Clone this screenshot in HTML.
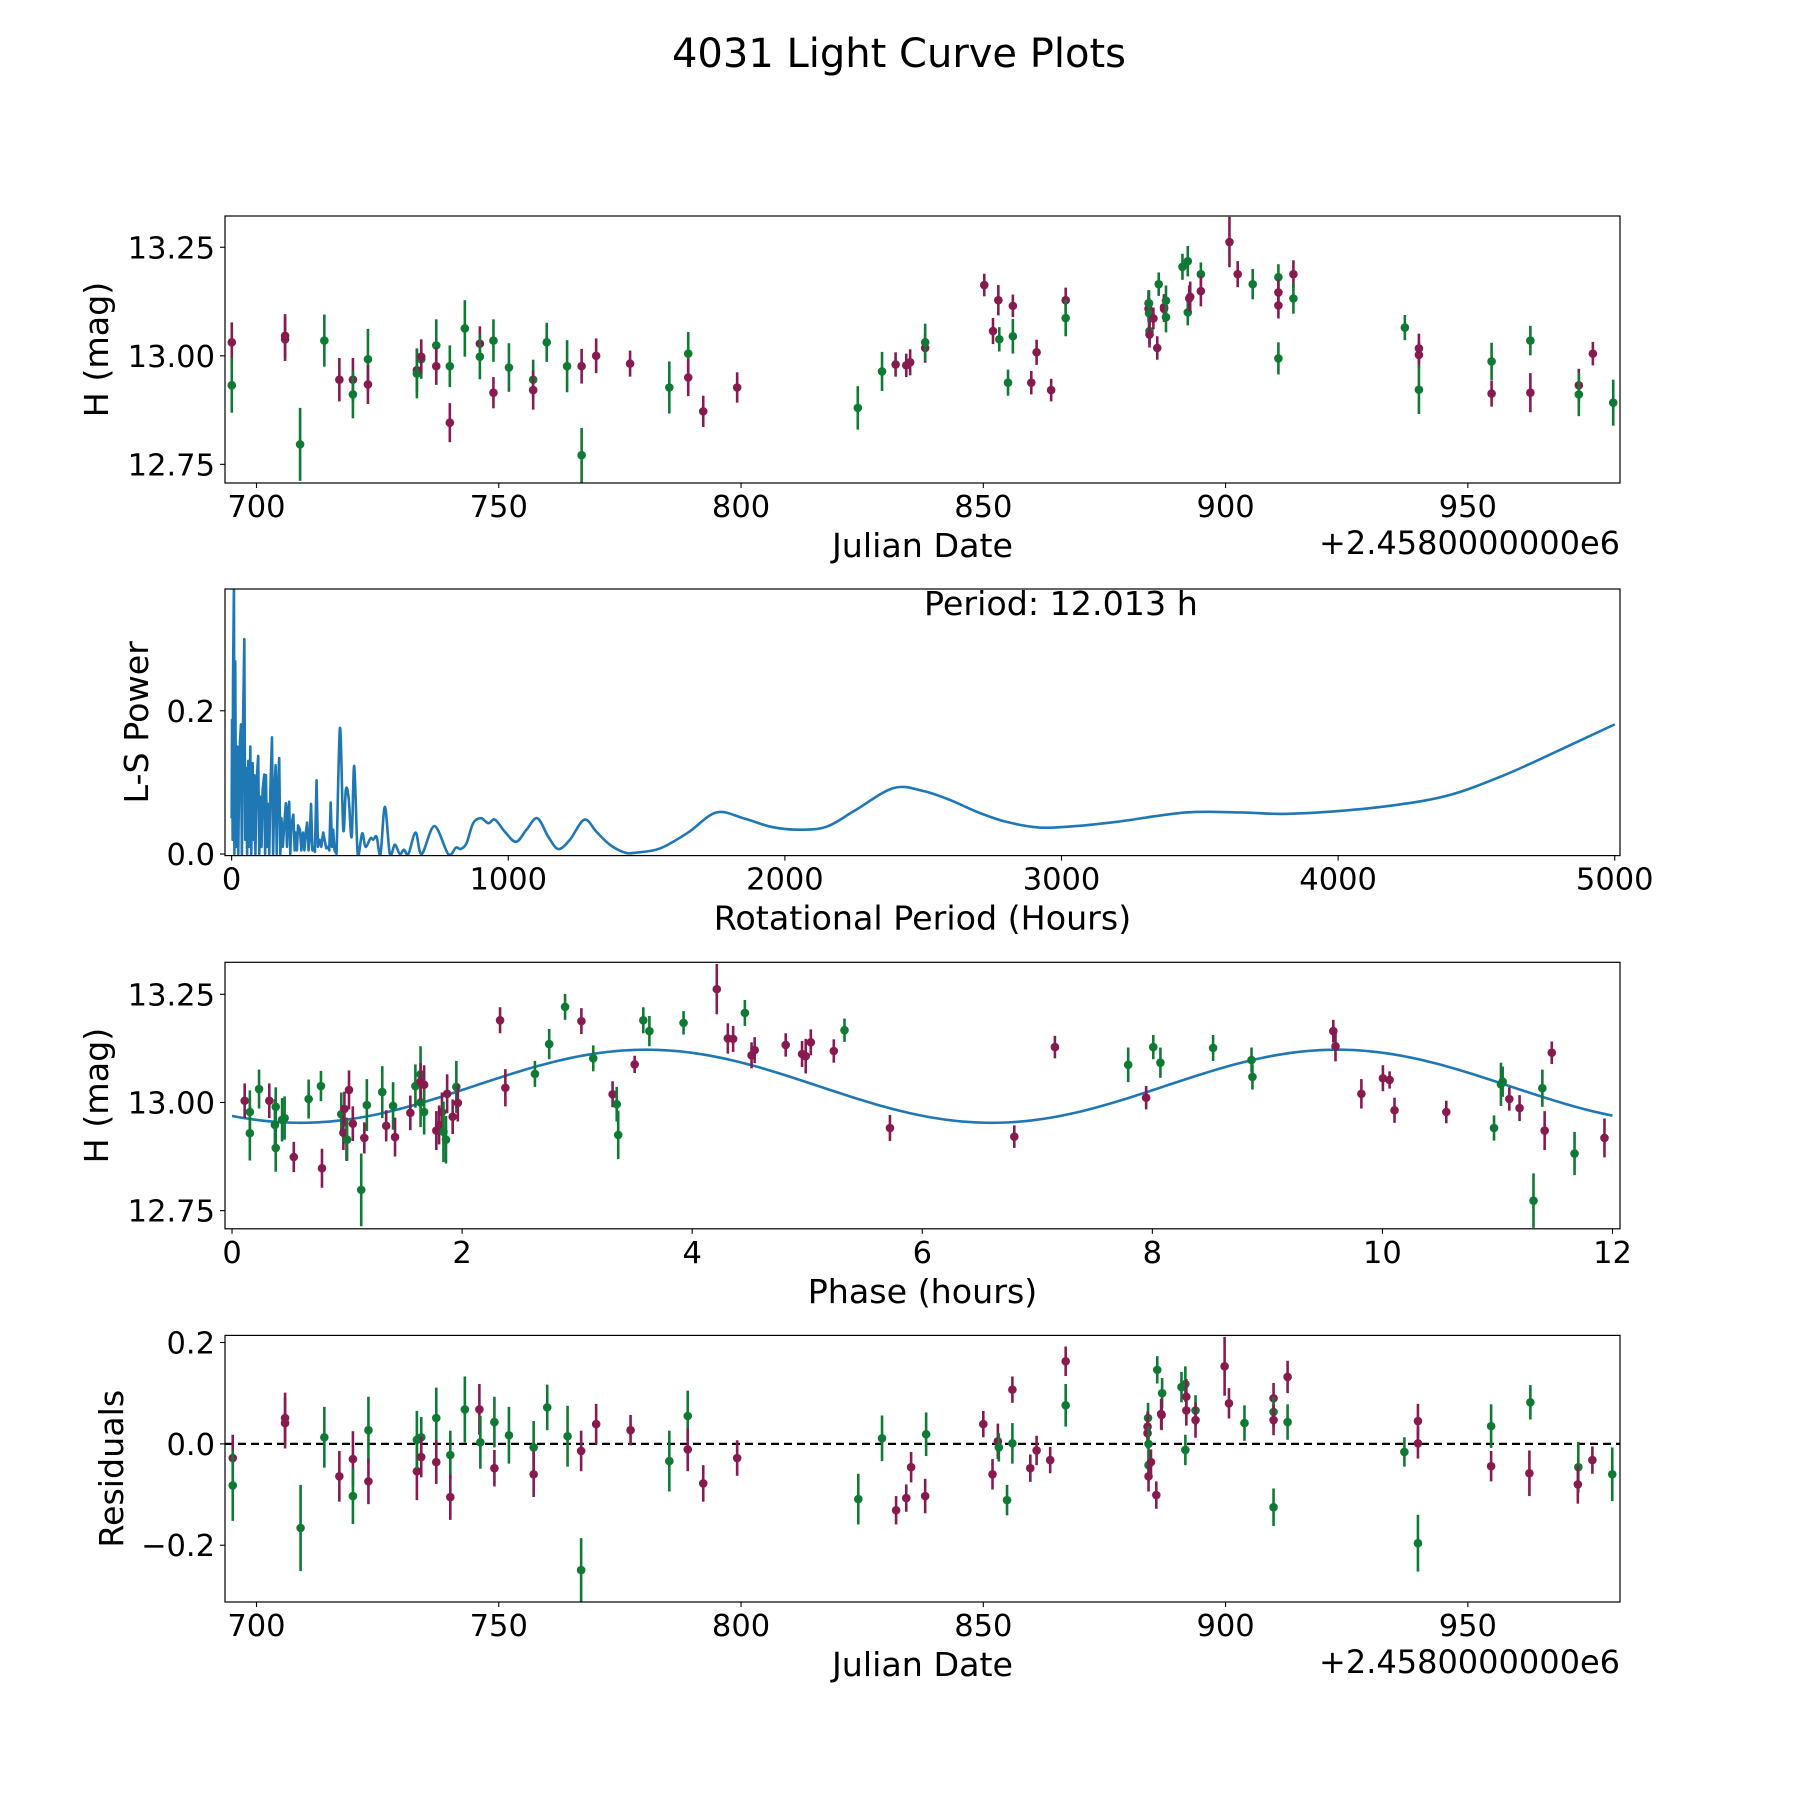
<!DOCTYPE html>
<html><head><meta charset="utf-8"><title>4031 Light Curve Plots</title>
<style>html,body{margin:0;padding:0;background:#fff}svg{display:block}text{font-family:"DejaVu Sans","Liberation Sans",sans-serif;fill:#000}</style>
</head><body>
<svg id="fig" xmlns="http://www.w3.org/2000/svg" width="1800" height="1800" viewBox="0 0 1800 1800">
<rect width="1800" height="1800" fill="#fff"/>
<text x="899" y="67" font-size="40" text-anchor="middle">4031 Light Curve Plots</text>
</svg>
<script>
// ---- Light curve (JD offset) ----
const lcJD=[694.9,694.9,705.9,705.9,709.0,714.0,717.1,719.9,719.9,723.0,723.0,733.1,733.1,734.0,734.0,737.1,737.1,739.9,739.9,743.0,746.1,746.1,748.9,748.9,752.1,757.1,757.1,759.9,764.1,767.1,767.1,770.1,777.1,785.2,789.1,789.1,792.2,799.2,824.1,829.1,831.9,834.1,834.9,838.0,838.0,850.2,852.0,853.1,853.3,855.1,856.1,856.1,859.9,861.0,864.0,867.0,867.0,884.1,884.1,884.2,884.2,884.3,884.3,885.1,885.9,886.2,887.3,887.3,887.7,887.7,891.1,892.2,892.7,892.2,892.5,894.9,894.9,900.8,902.5,905.6,910.9,910.9,910.9,910.9,914.0,914.0,937.0,939.9,939.9,939.9,954.9,954.9,962.9,962.9,972.9,972.9,975.8,980.0];
const lcMag=[13.031,12.932,13.046,13.038,12.796,13.035,12.945,12.945,12.911,12.992,12.934,12.967,12.959,12.992,12.998,13.024,12.976,12.976,12.846,13.063,13.028,12.998,12.915,13.035,12.973,12.945,12.921,13.031,12.976,12.976,12.771,13.0,12.982,12.927,13.005,12.95,12.872,12.927,12.88,12.964,12.98,12.978,12.985,13.018,13.031,13.163,13.057,13.128,13.038,12.938,13.115,13.045,12.938,13.008,12.921,13.128,13.087,13.121,13.108,13.121,13.098,13.057,13.049,13.086,13.018,13.165,13.108,13.112,13.127,13.089,13.205,13.218,13.136,13.1,13.132,13.188,13.149,13.262,13.188,13.165,13.181,13.146,13.116,12.994,13.188,13.132,13.065,13.017,13.002,12.922,12.987,12.913,13.035,12.915,12.932,12.911,13.005,12.892];
const lcErr=[.046,.063,.05,.05,.084,.06,.05,.05,.055,.07,.045,.05,.057,.045,.04,.06,.043,.048,.045,.065,.04,.052,.036,.049,.056,.046,.045,.045,.06,.04,.063,.04,.03,.06,.05,.043,.036,.035,.05,.045,.028,.027,.03,.034,.043,.026,.03,.035,.028,.03,.026,.04,.027,.029,.026,.029,.042,.03,.03,.03,.035,.03,.03,.025,.027,.027,.03,.03,.035,.035,.03,.035,.035,.03,.03,.027,.035,.058,.03,.035,.03,.03,.03,.037,.032,.035,.029,.034,.03,.056,.043,.03,.034,.045,.038,.05,.027,.053];
const lcBand="mgmmggmmgg"+"mmggmgmgmg"+"mgmgggmggm"+"gmmggmmmgg"+"mmmmgmmmgg"+"mgmmmmgmmg"+"ggmmmgmmgg"+"ggmgmgmmmg"+"gmmgmggmmg"+"gmgmmgmg";
// ---- Lomb-Scargle periodogram ----
const lsPeriod=[0,1.5,3.6,5,8.4,10,13,16,20,24,28,33.7,37,40,45.8,49,52,56,60,64,67.5,71,75.9,79,82,86,90,96,100,104,108,112,118,121,124,128,132,136,140,145.8,150,154,159,163,167,172,176,180,185,190,196,200,204,208,212,216,223,228,232,236,240,247,252,258,263,268,273,278,282,287,292,296,301,307,312,318,324,331,336,342,348,353,358,363,367,372,379,391.6,403.6,413,423,434,443,454,460,472,484,502,512,524,538,554,572,590,608,623,639,665,687,733,783,811,828,849,873,901,928,952,988,1028,1066,1105,1145,1181,1223,1275,1319,1367,1422,1464,1550,1650,1752,1850,1950,2047,2150,2250,2392,2500,2600,2700,2800,2920,3050,3200,3450,3650,3800,4000,4200,4400,4600,4800,5000];
const lsPower=[0.05,0.187,0.02,0.241,0.38,0.0,0.269,0.01,0.15,0.0,0.14,0.181,0.0,0.15,0.30,0.02,0.12,0.0,0.13,0.01,0.15,0.0,0.127,0.02,0.11,0.0,0.1,0.137,0.0,0.08,0.01,0.09,0.111,0.0,0.11,0.01,0.07,0.0,0.09,0.163,0.0,0.08,0.124,0.0,0.09,0.134,0.0,0.05,0.01,0.04,0.071,0.01,0.06,0.073,0.0,0.04,0.055,0.005,0.03,0.005,0.04,0.034,0.005,0.03,0.005,0.03,0.044,0.005,0.02,0.07,0.005,0.01,0.003,0.103,0.01,0.02,0.01,0.03,0.02,0.008,0.01,0.005,0.072,0.01,0.034,0.005,0.0,0.176,0.034,0.09,0.078,0.024,0.123,0.01,0.001,0.029,0.01,0.022,0.02,0.024,0.0,0.066,0.0,0.013,0.0,0.006,0.0,0.03,0.0,0.039,0.0,0.009,0.007,0.015,0.043,0.05,0.043,0.048,0.031,0.017,0.034,0.05,0.024,0.007,0.02,0.048,0.031,0.013,0.002,0.002,0.008,0.03,0.058,0.05,0.038,0.034,0.038,0.06,0.092,0.088,0.075,0.058,0.045,0.037,0.039,0.045,0.058,0.058,0.056,0.06,0.068,0.082,0.11,0.145,0.181];
// ---- Phased light curve ----
const phHour=[0.11,0.155,0.155,0.235,0.324,0.38,0.373,0.38,0.435,0.457,0.537,0.666,0.773,0.782,0.95,0.968,0.977,0.995,1.0,1.017,1.05,1.123,1.15,1.172,1.306,1.34,1.4,1.417,1.55,1.594,1.639,1.639,1.639,1.67,1.67,1.776,1.8,1.825,1.838,1.86,1.87,1.918,1.95,1.963,2.33,2.376,2.633,2.757,2.895,3.037,3.14,3.308,3.344,3.357,3.5,3.575,3.628,3.925,4.214,4.31,4.356,4.458,4.516,4.543,4.813,4.955,4.987,5.031,5.231,5.324,5.719,6.8,7.153,7.79,7.946,8.008,8.07,8.528,8.862,8.87,9.573,9.592,9.817,10.004,10.062,10.105,10.555,10.97,11.03,11.045,11.103,11.192,11.313,11.39,11.41,11.472,11.67,11.93];
const phMag=[13.004,12.978,12.929,13.031,13.004,12.99,12.948,12.895,12.96,12.964,12.874,13.008,13.038,12.848,12.973,12.93,12.985,12.915,12.914,13.029,12.951,12.798,12.918,12.994,13.024,12.946,12.992,12.92,12.976,13.038,13.065,13.0,13.048,13.041,12.978,12.935,12.948,12.978,12.932,12.914,13.02,12.967,13.036,12.999,13.19,13.034,13.066,13.135,13.221,13.188,13.102,13.019,12.996,12.925,13.088,13.19,13.165,13.184,13.262,13.148,13.147,13.207,13.109,13.121,13.133,13.112,13.107,13.139,13.119,13.167,12.941,12.921,13.128,13.087,13.011,13.128,13.092,13.126,13.098,13.059,13.165,13.13,13.02,13.056,13.052,12.982,12.978,12.941,13.042,13.048,13.008,12.987,12.773,13.033,12.935,13.115,12.882,12.918];
const phErr=[.04,.05,.063,.045,.04,.045,.06,.055,.05,.05,.035,.045,.035,.045,.05,.04,.04,.05,.049,.045,.04,.084,.036,.06,.06,.036,.055,.045,.04,.05,.065,.057,.043,.045,.052,.045,.045,.045,.07,.055,.045,.04,.06,.043,.03,.043,.03,.035,.03,.03,.03,.03,.04,.056,.02,.03,.035,.027,.058,.035,.03,.03,.03,.03,.027,.03,.04,.03,.027,.027,.03,.026,.026,.04,.027,.028,.035,.03,.029,.029,.026,.035,.034,.03,.02,.029,.026,.029,.05,.035,.027,.03,.063,.043,.045,.026,.05,.045];
const phBand="mgggmggggg"+"mggmgmmmgm"+"mgmggmgmmg"+"ggmmgmmmgg"+"mmgmmmgggm"+"gmggmgggmm"+"mgmmmmmmmg"+"mmmgmggggg"+"mmmmmmmggg"+"mmggmmgm";
// ---- Phase model (fitted sinusoid) ----
const modelMean=[13.0375];
const modelAmp=[0.0845];
const modelPeak=[3.6];
const modelPeriod=[12.013];
// ---- Residuals ----
const resJD=[695.1,695.1,705.9,705.9,709.1,714.0,717.1,719.9,719.9,723.1,723.1,733.1,733.1,734.0,734.0,737.1,737.1,740.0,740.0,743.0,746.0,746.2,749.1,749.1,752.1,757.2,757.2,760.0,764.2,767.0,767.0,770.1,777.2,785.2,789.0,789.0,792.2,799.2,824.2,829.1,832.0,834.1,835.1,838.0,838.2,850.0,851.9,853.0,853.2,854.9,856.0,856.0,859.7,861.0,863.8,867.0,867.0,884.0,883.9,883.9,884.1,884.1,884.1,884.6,885.7,885.9,886.9,886.8,886.7,890.9,891.7,891.9,891.9,891.7,893.8,893.8,899.8,900.7,903.9,909.9,909.9,909.9,909.9,912.8,912.8,936.9,939.7,939.7,939.7,954.8,954.8,962.9,962.7,972.8,972.7,975.7,979.8];
const resVal=[-0.028,-0.082,0.051,0.041,-0.166,0.013,-0.064,-0.03,-0.103,0.027,-0.074,-0.054,0.008,0.013,-0.026,0.051,-0.036,-0.022,-0.105,0.068,0.068,0.003,0.043,-0.048,0.017,-0.007,-0.06,0.072,0.015,-0.014,-0.249,0.039,0.027,-0.034,0.055,-0.011,-0.078,-0.028,-0.109,0.011,-0.131,-0.107,-0.046,-0.103,0.019,0.039,-0.06,0.005,-0.007,-0.111,0.107,0.001,-0.048,-0.013,-0.032,0.163,0.076,0.051,0.034,0.021,0.0,-0.042,-0.064,-0.036,-0.101,0.146,0.1,0.057,0.059,0.112,0.118,0.093,0.066,-0.012,0.066,0.047,0.153,0.08,0.041,0.09,0.063,0.047,-0.125,0.132,0.043,-0.016,0.045,0.001,-0.196,0.035,-0.044,0.082,-0.058,-0.046,-0.08,-0.032,-0.06];
const resErr=[.046,.07,.05,.05,.085,.06,.05,.055,.055,.066,.045,.057,.057,.04,.04,.06,.043,.048,.045,.065,.05,.052,.05,.036,.056,.052,.045,.045,.06,.04,.063,.04,.03,.06,.05,.043,.036,.035,.05,.045,.028,.027,.03,.034,.043,.026,.03,.035,.028,.03,.026,.04,.027,.029,.026,.029,.042,.03,.03,.03,.035,.03,.03,.025,.027,.027,.03,.03,.03,.03,.035,.035,.03,.03,.03,.035,.058,.03,.035,.03,.03,.03,.037,.032,.035,.029,.034,.03,.056,.043,.03,.034,.045,.05,.038,.027,.053];
const resBand="mgmmggmmgg"+"mmggmgmgmg"+"mggmggmggm"+"gmmggmmmgg"+"mmmmgmmmgg"+"mgmmmmggmm"+"ggmmmggmmg"+"gmmggmmmgm"+"gmgmggmmgg"+"mgmgmmg";
// ---- Tick labels ----
const jdTicks=[700,750,800,850,900,950];
const magTicks=[12.75,13.00,13.25];
const magTickLabels=["12.75","13.00","13.25"];
const lsXTicks=[0,1000,2000,3000,4000,5000];
const lsYTicks=[0,0.2];
const lsYTickLabels=["0.0","0.2"];
const phTicks=[0,2,4,6,8,10,12];
const resTicks=[-0.2,0,0.2];
const resTickLabels=["\u22120.2","0.0","0.2"];

const NS="http://www.w3.org/2000/svg";
const svg=document.getElementById('fig');
const COL={m:"#871b50",g:"#0f7a33"};
function mk(tag,attrs,parent){const e=document.createElementNS(NS,tag);for(const k in attrs)e.setAttribute(k,attrs[k]);(parent||svg).appendChild(e);return e;}
function axis(L,R,T,B,x0,x1,y0,y1){return{L,R,T,B,sx:v=>L+(v-x0)/(x1-x0)*(R-L),sy:v=>B-(v-y0)/(y1-y0)*(B-T)};}
const L=225,R=1620;
const A1=axis(L,R,216,483,693.5,981.4,12.707,13.322);
const A2=axis(L,R,589,855.6,-24,5019,-0.0022,0.370);
const A3=axis(L,R,962.3,1228.8,-0.061,12.065,12.708,13.324);
const A4=axis(L,R,1335.4,1602,693.5,981.4,-0.312,0.214);

function clip(ax,id){const d=mk('defs',{});const c=mk('clipPath',{id:id},d);mk('rect',{x:ax.L,y:ax.T,width:ax.R-ax.L,height:ax.B-ax.T},c);}
function frame(ax,name){const r=mk('rect',{x:ax.L,y:ax.T,width:ax.R-ax.L,height:ax.B-ax.T,fill:'none',stroke:'#000','stroke-width':1.2});

}
function xticks(ax,ticks,labels,name){ticks.forEach((t,i)=>{const x=ax.sx(t);
const l=mk('line',{x1:x,x2:x,y1:ax.B,y2:ax.B+5,stroke:'#000','stroke-width':1.1});


const tx=mk('text',{x:x,y:ax.B+34,'font-size':30.5,'text-anchor':'middle'});tx.textContent=labels?labels[i]:String(t);

});}
function yticks(ax,ticks,labels,name){ticks.forEach((t,i)=>{const y=ax.sy(t);
const l=mk('line',{x1:ax.L-5,x2:ax.L,y1:y,y2:y,stroke:'#000','stroke-width':1.1});


const tx=mk('text',{x:ax.L-10,y:y+11,'font-size':30.5,'text-anchor':'end'});tx.textContent=labels[i];

});}
function xlabel(ax,s,name){const t=mk('text',{x:(ax.L+ax.R)/2,y:ax.B+74,'font-size':33.3,'text-anchor':'middle'});t.textContent=s;

}
function ylabel(ax,s,cx,name){const cy=(ax.T+ax.B)/2;const t=mk('text',{x:cx,y:cy,'font-size':33.3,'text-anchor':'middle',transform:`rotate(-90 ${cx} ${cy}) translate(0 12)`});t.textContent=s;

}
function offsetText(ax,name){const t=mk('text',{x:ax.R,y:ax.B+71,'font-size':32,'text-anchor':'end'});t.textContent='+2.4580000000e6';

}
function errpts(ax,xs,ys,es,bands,clipId,name){const g=mk('g',{'clip-path':`url(#${clipId})`});


xs.forEach((v,i)=>{const c=COL[bands[i]]||COL.m;const x=ax.sx(v);
const l=mk('line',{x1:x,x2:x,y1:ax.sy(ys[i]-es[i]),y2:ax.sy(ys[i]+es[i]),stroke:c,'stroke-width':2.6},g);


const p=mk('circle',{cx:x,cy:ax.sy(ys[i]),r:4.3,fill:c},g);

});}

// Panel 1
clip(A1,'c1');
errpts(A1,lcJD,lcMag,lcErr,lcBand,'c1','light-curve');
frame(A1,'light-curve');xticks(A1,jdTicks,null,'light-curve');yticks(A1,magTicks,magTickLabels,'light-curve');
xlabel(A1,'Julian Date','light-curve');ylabel(A1,'H (mag)',96,'light-curve');offsetText(A1,'light-curve');

// Panel 2: straight segments in dense region, Catmull-Rom smoothing for long periods
clip(A2,'c2');
const pts=lsPeriod.map((p,i)=>[A2.sx(p),A2.sy(lsPower[i])]);
let lsd='M'+pts[0][0].toFixed(2)+' '+pts[0][1].toFixed(2);
for(let i=1;i<pts.length;i++){
  if(lsPeriod[i-1]<379){lsd+=' L'+pts[i][0].toFixed(2)+' '+pts[i][1].toFixed(2);}
  else{const p0=pts[Math.max(i-2,0)],p1=pts[i-1],p2=pts[i],p3=pts[Math.min(i+1,pts.length-1)];
  const c1x=p1[0]+(p2[0]-p0[0])/6,c1y=p1[1]+(p2[1]-p0[1])/6,c2x=p2[0]-(p3[0]-p1[0])/6,c2y=p2[1]-(p3[1]-p1[1])/6;
  lsd+=` C${c1x.toFixed(2)} ${c1y.toFixed(2)} ${c2x.toFixed(2)} ${c2y.toFixed(2)} ${p2[0].toFixed(2)} ${p2[1].toFixed(2)}`;}
}
const lsPath=mk('path',{d:lsd,fill:'none',stroke:'#1f77b4','stroke-width':2.6,'stroke-linejoin':'round','clip-path':'url(#c2)'});


frame(A2,'periodogram');xticks(A2,lsXTicks,null,'periodogram');yticks(A2,lsYTicks,lsYTickLabels,'periodogram');
xlabel(A2,'Rotational Period (Hours)','periodogram');ylabel(A2,'L-S Power',136,'periodogram');
const pt=mk('text',{x:924,y:615,'font-size':33.3});pt.textContent='Period: 12.013 h';



// Panel 3
clip(A3,'c3');
let md='';for(let k=0;k<=240;k++){const p=k/240*12;const v=modelMean[0]+modelAmp[0]*Math.cos(2*Math.PI*(p-modelPeak[0])/(modelPeriod[0]/2));md+=(k?'L':'M')+A3.sx(p).toFixed(2)+' '+A3.sy(v).toFixed(2)+' ';}
const mp=mk('path',{d:md,fill:'none',stroke:'#1f77b4','stroke-width':2.6,'clip-path':'url(#c3)'});


errpts(A3,phHour,phMag,phErr,phBand,'c3','phase-curve');
frame(A3,'phase-curve');xticks(A3,phTicks,null,'phase-curve');yticks(A3,magTicks,magTickLabels,'phase-curve');
xlabel(A3,'Phase (hours)','phase-curve');ylabel(A3,'H (mag)',96,'phase-curve');

// Panel 4
clip(A4,'c4');
const zl=mk('line',{x1:A4.L,x2:A4.R,y1:A4.sy(0),y2:A4.sy(0),stroke:'#000','stroke-width':2.2,'stroke-dasharray':'8 5'});


errpts(A4,resJD,resVal,resErr,resBand,'c4','residuals');
frame(A4,'residuals');xticks(A4,jdTicks,null,'residuals');yticks(A4,resTicks,resTickLabels,'residuals');
xlabel(A4,'Julian Date','residuals');ylabel(A4,'Residuals',111,'residuals');offsetText(A4,'residuals');
</script>
</body></html>
